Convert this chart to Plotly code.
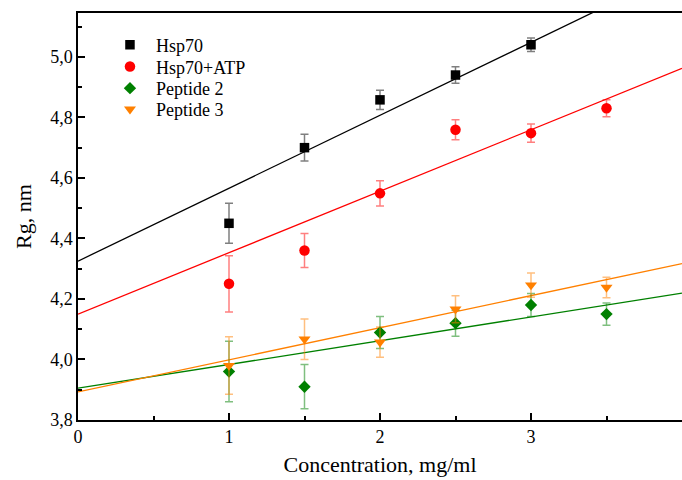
import plotly.graph_objects as go

# ---- data ----
conc_hsp70 = [1.0, 1.5, 2.0, 2.5, 3.0]
rg_hsp70 = [4.45, 4.70, 4.858, 4.94, 5.04]
err_hsp70 = [0.066, 0.044, 0.032, 0.027, 0.022]

conc_atp = [1.0, 1.5, 2.0, 2.5, 3.0, 3.5]
rg_atp = [4.25, 4.36, 4.549, 4.759, 4.748, 4.83]
err_atp = [0.093, 0.056, 0.042, 0.033, 0.030, 0.028]

conc_pep2 = [1.0, 1.5, 2.0, 2.5, 3.0, 3.5]
rg_pep2 = [3.96, 3.91, 4.089, 4.12, 4.18, 4.15]
err_pep2 = [0.10, 0.073, 0.053, 0.043, 0.038, 0.037]

conc_pep3 = [1.0, 1.5, 2.0, 2.5, 3.0, 3.5]
rg_pep3 = [3.98, 4.067, 4.057, 4.166, 4.246, 4.238]
err_pep3 = [0.095, 0.067, 0.05, 0.045, 0.04, 0.034]

# linear fits (intercept, slope)
fit_hsp70 = (4.325, 0.241)
fit_atp = (4.15, 0.203)
fit_pep2 = (3.905, 0.0785)
fit_pep3 = (3.893, 0.106)
fit_x = [0.0, 4.0]

series_names = ["Hsp70", "Hsp70+ATP", "Peptide 2", "Peptide 3"]
x_ticks = [0, 1, 2, 3, 4]
y_ticks = [3.8, 4.0, 4.2, 4.4, 4.6, 4.8, 5.0]

FONT = "Liberation Serif, Times New Roman, serif"

fig = go.Figure()

specs = [
    (conc_hsp70, rg_hsp70, err_hsp70, fit_hsp70, "#000000", "rgba(0,0,0,0.5)", "square", 9.5),
    (conc_atp, rg_atp, err_atp, fit_atp, "#ff0000", "rgba(255,0,0,0.5)", "circle", 10.5),
    (conc_pep2, rg_pep2, err_pep2, fit_pep2, "#008000", "rgba(0,128,0,0.5)", "diamond", 9.5),
    (conc_pep3, rg_pep3, err_pep3, fit_pep3, "#ff8000", "rgba(255,128,0,0.5)", "triangle-down", 10.5),
]

# fit lines first (beneath markers)
for (xs, ys, es, fit, col, ecol, sym, sz), name in zip(specs, series_names):
    b0, b1 = fit
    fig.add_trace(go.Scatter(
        x=fit_x, y=[b0 + b1 * v for v in fit_x], mode="lines",
        line=dict(color=col, width=1.3), showlegend=False, hoverinfo="skip",
    ))

legend_ids = ["legend", "legend2", "legend3", "legend4"]
for (xs, ys, es, fit, col, ecol, sym, sz), name, lid in zip(specs, series_names, legend_ids):
    fig.add_trace(go.Scatter(
        x=xs, y=ys, mode="markers", name=name, legend=lid,
        marker=dict(symbol=sym, size=sz, color=col, line=dict(width=0)),
        error_y=dict(type="data", array=es, visible=True, color=ecol,
                     thickness=1.5, width=4),
    ))

legend_style = dict(
    x=0.043, xanchor="left", yanchor="top",
    bgcolor="rgba(0,0,0,0)", font=dict(family=FONT, size=18),
    itemwidth=42, tracegroupgap=0,
)
legend_tops = [0.9666, 0.9133, 0.860, 0.8084]

fig.update_layout(
    width=682, height=480,
    margin=dict(l=78, r=0, t=13, b=60, autoexpand=False),
    paper_bgcolor="white", plot_bgcolor="white",
    separators=",.",
    font=dict(family=FONT, size=18, color="#000000"),
    showlegend=True,
    legend=dict(y=legend_tops[0], **legend_style),
    legend2=dict(y=legend_tops[1], **legend_style),
    legend3=dict(y=legend_tops[2], **legend_style),
    legend4=dict(y=legend_tops[3], **legend_style),
    xaxis=dict(
        range=[0, 4], tickvals=x_ticks, ticktext=[str(v) for v in x_ticks],
        ticks="inside", ticklen=7, tickwidth=1.5, tickcolor="#000",
        minor=dict(ticks="inside", ticklen=4, tickwidth=1.5, dtick=0.5, tickcolor="#000"),
        showline=True, linecolor="#000", linewidth=1.5, mirror=True,
        showgrid=False, zeroline=False, automargin=False,
        title=dict(text="Concentration, mg/ml", font=dict(size=22), standoff=10),
        tickfont=dict(size=18),
    ),
    yaxis=dict(
        range=[3.8, 5.145], tickvals=y_ticks, tickformat=".1f",
        ticks="inside", ticklen=7, tickwidth=1.5, tickcolor="#000",
        minor=dict(ticks="inside", ticklen=4, tickwidth=1.5, dtick=0.1, tickcolor="#000"),
        showline=True, linecolor="#000", linewidth=1.5, mirror=False,
        showgrid=False, zeroline=False, automargin=False,
        title=dict(text="Rg, nm", font=dict(size=22), standoff=12),
        tickfont=dict(size=18),
    ),
)

fig.write_html(
    "out.html",
    config={"displayModeBar": False},
    post_script="document.body.style.margin='0';document.body.style.overflow='hidden';",
)
